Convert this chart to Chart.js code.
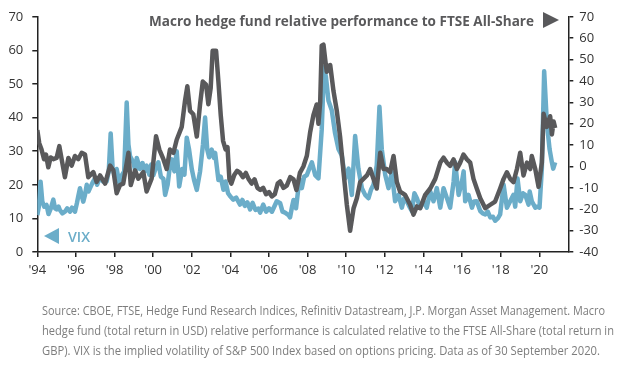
<!DOCTYPE html>
<html>
<head>
<meta charset="utf-8">
<script src="https://cdn.jsdelivr.net/npm/chart.js@4.4.1/dist/chart.umd.min.js"></script>
<style>
  body { margin: 0; background: #fff; }
  #wrap { position: relative; width: 622px; height: 372px; overflow: hidden; font-family: "Open Sans", sans-serif; }
  #chart { position: absolute; left: 0; top: 0; }
  .fit { position: absolute; white-space: nowrap; transform-origin: left center; }
  #title { left: 149px; top: 10px; font-size: 15px; font-weight: 700; color: #59595b; line-height: 20px; }
  #titleArrow { position: absolute; left: 543px; top: 12px; width: 0; height: 0;
    border-left: 16px solid #59595b; border-top: 8px solid transparent; border-bottom: 8px solid transparent; }
  #vixArrow { position: absolute; left: 44px; top: 228px; width: 0; height: 0;
    border-right: 15px solid #6badc9; border-top: 8px solid transparent; border-bottom: 8px solid transparent; }
  #vixLabel { left: 68px; top: 226px; font-size: 15px; font-weight: 600; color: #6badc9; line-height: 20px; }
  .note { left: 42px; font-size: 12px; color: #7d7d7d; line-height: 20px; }
</style>
</head>
<body>
<div id="wrap">
  <canvas id="chart" width="622" height="372"></canvas>
  <div id="title" class="fit" data-w="385">Macro hedge fund relative performance to FTSE All-Share</div>
  <div id="titleArrow"></div>
  <div id="vixArrow"></div>
  <div id="vixLabel" class="fit" data-w="22">VIX</div>
  <div class="fit note" style="top:301px" data-w="563">Source: CBOE, FTSE, Hedge Fund Research Indices, Refinitiv Datastream, J.P. Morgan Asset Management. Macro</div>
  <div class="fit note" style="top:321px" data-w="572">hedge fund (total return in USD) relative performance is calculated relative to the FTSE All-Share (total return in</div>
  <div class="fit note" style="top:341px" data-w="558">GBP). VIX is the implied volatility of S&amp;P 500 Index based on options pricing. Data as of 30 September 2020.</div>
</div>
<script>
// x positions are decimal years
const macroYears = [
  1994.00, 1994.10, 1994.22, 1994.35, 1994.45, 1994.57, 1994.69, 1994.83, 1995.00, 1995.14,
  1995.26, 1995.43, 1995.61, 1995.78, 1995.95, 1996.12, 1996.30, 1996.47, 1996.64, 1996.90,
  1997.07, 1997.25, 1997.51, 1997.77, 1997.94, 1998.11, 1998.28, 1998.45, 1998.72, 1998.84,
  1999.06, 1999.23, 1999.49, 1999.66, 1999.92, 2000.15, 2000.32, 2000.53, 2000.70, 2000.87,
  2001.05, 2001.22, 2001.48, 2001.65, 2001.77, 2001.91, 2002.08, 2002.26, 2002.43, 2002.57,
  2002.74, 2002.86, 2002.98, 2003.08, 2003.26, 2003.38, 2003.50, 2003.62, 2003.75, 2003.85,
  2003.95, 2004.05, 2004.20, 2004.35, 2004.50, 2004.65, 2004.80, 2004.95, 2005.10, 2005.25,
  2005.40, 2005.55, 2005.70, 2005.85, 2006.00, 2006.15, 2006.30, 2006.45, 2006.58, 2006.75,
  2006.92, 2007.10, 2007.27, 2007.42, 2007.60, 2007.78, 2007.96, 2008.13, 2008.30, 2008.47,
  2008.56, 2008.65, 2008.73, 2008.82, 2008.91, 2008.99, 2009.08, 2009.17, 2009.34, 2009.51,
  2009.68, 2009.86, 2010.03, 2010.20, 2010.38, 2010.55, 2010.72, 2010.89, 2011.07, 2011.24,
  2011.41, 2011.58, 2011.76, 2011.93, 2012.10, 2012.27, 2012.45, 2012.62, 2012.79, 2013.05,
  2013.31, 2013.48, 2013.66, 2013.83, 2014.09, 2014.35, 2014.61, 2014.87, 2015.04, 2015.21,
  2015.38, 2015.56, 2015.73, 2015.90, 2016.07, 2016.25, 2016.42, 2016.59, 2016.76, 2016.94,
  2017.20, 2017.46, 2017.71, 2017.97, 2018.15, 2018.32, 2018.49, 2018.66, 2018.84, 2019.01,
  2019.18, 2019.36, 2019.53, 2019.61, 2019.79, 2019.96, 2020.13, 2020.22, 2020.39, 2020.56,
  2020.65, 2020.74, 2020.82
];
const macroValues = [
  17.0, 10.9, 7.9, 3.4, 5.6, -0.4, 4.2, 3.4, 4.0, 9.5,
  3.4, -5.0, 4.0, 0.4, 4.9, 3.4, 6.4, 5.6, -5.0, -2.6,
  -7.2, -4.2, -8.0, 0.4, -1.8, -12.5, -8.7, -8.0, 6.4, -8.7,
  -1.8, -5.7, -2.6, -11.7, -5.7, 14.1, 7.9, 3.4, -1.2, 7.9,
  6.4, 12.5, 18.5, 30.7, 37.5, 26.0, 24.4, 14.0, 29.1, 39.7,
  38.3, 29.1, 36.7, 54.1, 54.1, 39.7, 24.0, 12.0, 8.0, 9.0,
  -6.0, -8.0, -4.0, -2.0, -3.0, -5.0, -3.0, -6.0, -8.0, -6.0,
  -10.0, -11.0, -10.0, -13.0, -12.0, -14.0, -13.0, -8.0, -7.0, -10.0,
  -9.0, -5.0, -6.0, -11.0, -3.0, 0.0, 5.0, 16.0, 24.0, 29.0,
  20.0, 30.0, 56.5, 57.0, 50.0, 44.3, 47.0, 47.4, 35.2, 26.1,
  14.0, -2.7, -17.9, -30.1, -19.5, -14.9, -7.3, -5.8, -4.2, -1.2,
  -5.8, -10.3, 6.4, -1.2, -1.2, -2.7, 4.9, -7.3, -11.8, -13.3,
  -17.9, -22.5, -18.7, -19.5, -13.3, -10.3, -5.8, 1.8, 4.1, 1.8,
  0.3, 3.3, -1.2, 1.8, 5.6, 3.3, 1.8, -5.8, -10.3, -14.9,
  -19.5, -17.9, -16.4, -10.3, -5.8, -2.7, -5.8, -7.3, -1.2, 6.4,
  -4.2, 1.8, -1.2, 4.9, -1.2, -9.5, 1.8, 24.6, 18.5, 23.5,
  15.0, 21.0, 18.0
];
const vixYears = [
  1994.00, 1994.08, 1994.17, 1994.26, 1994.36, 1994.48, 1994.58, 1994.70, 1994.83, 1994.92,
  1995.00, 1995.10, 1995.17, 1995.30, 1995.43, 1995.55, 1995.69, 1995.80, 1995.95, 1996.05,
  1996.12, 1996.21, 1996.38, 1996.47, 1996.56, 1996.65, 1996.73, 1996.85, 1996.99, 1997.10,
  1997.25, 1997.40, 1997.59, 1997.70, 1997.80, 1997.90, 1998.00, 1998.11, 1998.25, 1998.37,
  1998.50, 1998.63, 1998.72, 1998.80, 1998.97, 1999.08, 1999.15, 1999.32, 1999.45, 1999.55,
  1999.66, 1999.80, 1999.90, 2000.01, 2000.15, 2000.27, 2000.40, 2000.53, 2000.62, 2000.75,
  2000.88, 2000.96, 2001.10, 2001.22, 2001.35, 2001.50, 2001.62, 2001.74, 2001.86, 2002.00,
  2002.12, 2002.26, 2002.43, 2002.58, 2002.69, 2002.80, 2002.90, 2003.03, 2003.15, 2003.21,
  2003.38, 2003.50, 2003.64, 2003.75, 2003.88, 2004.00, 2004.15, 2004.30, 2004.50, 2004.62,
  2004.75, 2004.88, 2005.02, 2005.15, 2005.30, 2005.45, 2005.54, 2005.70, 2005.85, 2006.00,
  2006.15, 2006.40, 2006.58, 2006.70, 2006.83, 2007.01, 2007.09, 2007.20, 2007.27, 2007.40,
  2007.52, 2007.62, 2007.70, 2007.82, 2007.96, 2008.10, 2008.22, 2008.39, 2008.56, 2008.73,
  2008.85, 2008.95, 2009.08, 2009.25, 2009.42, 2009.60, 2009.77, 2009.94, 2010.12, 2010.29,
  2010.46, 2010.63, 2010.81, 2010.98, 2011.15, 2011.28, 2011.41, 2011.58, 2011.72, 2011.84,
  2012.02, 2012.19, 2012.36, 2012.53, 2012.71, 2012.88, 2013.00, 2013.14, 2013.27, 2013.40,
  2013.53, 2013.66, 2013.83, 2014.00, 2014.17, 2014.35, 2014.52, 2014.69, 2014.87, 2015.04,
  2015.21, 2015.38, 2015.56, 2015.64, 2015.82, 2015.99, 2016.08, 2016.16, 2016.33, 2016.51,
  2016.62, 2016.76, 2016.94, 2017.07, 2017.20, 2017.33, 2017.46, 2017.60, 2017.71, 2017.85,
  2017.97, 2018.15, 2018.25, 2018.32, 2018.49, 2018.66, 2018.75, 2018.87, 2019.01, 2019.15,
  2019.27, 2019.44, 2019.50, 2019.61, 2019.79, 2019.90, 2020.01, 2020.13, 2020.25, 2020.39,
  2020.53, 2020.65, 2020.72, 2020.82
];
const vixValues = [
  11.0, 13.5, 20.9, 15.0, 13.5, 14.0, 11.3, 13.0, 15.6, 13.0,
  12.7, 13.5, 12.5, 11.5, 12.0, 13.0, 12.0, 13.2, 12.0, 14.5,
  16.5, 19.0, 15.0, 17.0, 20.0, 18.0, 19.0, 20.5, 22.0, 20.0,
  22.3, 21.0, 21.0, 24.0, 35.3, 25.0, 22.8, 24.7, 20.5, 22.8,
  24.0, 44.5, 32.0, 28.6, 26.7, 24.0, 28.0, 24.7, 26.5, 24.0,
  25.7, 23.0, 26.0, 22.8, 25.3, 26.7, 22.4, 21.8, 17.0, 20.0,
  26.2, 27.6, 24.0, 30.0, 19.5, 24.7, 23.0, 34.0, 30.5, 24.7,
  21.4, 18.5, 24.0, 32.0, 40.0, 30.5, 28.2, 30.5, 28.0, 29.5,
  21.4, 22.4, 18.5, 21.0, 17.5, 16.5, 15.6, 16.2, 14.1, 15.5,
  13.7, 14.8, 12.7, 14.6, 12.5, 12.9, 11.7, 14.1, 12.0, 13.0,
  12.0, 15.1, 14.5, 12.0, 11.7, 11.0, 10.3, 13.7, 15.5, 13.0,
  19.0, 21.4, 19.0, 22.4, 22.9, 25.0, 26.7, 22.9, 21.9, 36.4,
  55.0, 52.0, 45.0, 42.2, 35.4, 30.6, 28.7, 21.9, 24.8, 17.0,
  34.5, 24.8, 19.0, 17.0, 16.0, 18.5, 20.0, 25.8, 43.2, 30.6,
  22.9, 19.0, 23.8, 15.1, 17.0, 13.2, 16.0, 15.1, 13.5, 12.2,
  17.5, 16.0, 13.2, 15.1, 13.2, 18.0, 15.1, 19.0, 13.2, 19.0,
  16.1, 13.2, 20.9, 26.7, 17.0, 20.9, 24.0, 15.1, 17.0, 13.2,
  15.0, 15.1, 12.2, 11.5, 11.2, 12.0, 10.3, 10.5, 9.3, 10.0,
  11.2, 20.0, 16.0, 13.2, 15.1, 17.0, 13.5, 21.9, 15.1, 17.5,
  17.0, 14.1, 18.0, 15.1, 13.2, 13.5, 13.2, 24.8, 53.8, 38.3,
  30.6, 26.7, 24.8, 26.7
];
const xTickYears = [1994, 1996, 1998, 2000, 2002, 2004, 2006, 2008, 2010, 2012, 2014, 2016, 2018, 2020];
const xTickLabels = ["'94", "'96", "'98", "'00", "'02", "'04", "'06", "'08", "'10", "'12", "'14", "'16", "'18", "'20"];
const leftTicks = [0, 10, 20, 30, 40, 50, 60, 70];
const rightTicks = [-40, -30, -20, -10, 0, 10, 20, 30, 40, 50, 60, 70];

const GREY = "#59595b";
const BLUE = "#6badc9";
const AXIS = "#222";
const tickFont = { family: "Open Sans", size: 13 };

var ctx = document.getElementById("chart").getContext("2d");
var chart = new Chart(ctx, {
  type: "line",
  data: {
    datasets: [
      {
        label: "Macro hedge fund relative performance to FTSE All-Share",
        data: macroYears.map((x, i) => ({ x: x, y: macroValues[i] })),
        yAxisID: "yRight",
        borderColor: GREY,
        borderWidth: 4.5,
        pointRadius: 0,
        tension: 0,
        borderJoinStyle: "round",
        order: 0,
      },
      {
        label: "VIX",
        data: vixYears.map((x, i) => ({ x: x, y: vixValues[i] })),
        yAxisID: "yLeft",
        borderColor: BLUE,
        borderWidth: 4.5,
        pointRadius: 0,
        tension: 0,
        borderJoinStyle: "round",
        order: 1,
      },
    ],
  },
  options: {
    responsive: false,
    animation: false,
    devicePixelRatio: 1,
    layout: { padding: { top: 11, left: 0, right: 0, bottom: 0 } },
    plugins: { legend: { display: false }, tooltip: { enabled: false } },
    scales: {
      x: {
        type: "linear",
        min: 1994,
        max: 2021.5,
        afterBuildTicks: (scale) => { scale.ticks = xTickYears.map((v) => ({ value: v })); },
        afterFit: (scale) => { scale.height = 120; },
        ticks: {
          autoSkip: false,
          maxRotation: 0,
          padding: 5,
          color: "#333",
          font: tickFont,
          callback: (value, index) => xTickLabels[index],
        },
        grid: { drawOnChartArea: false, tickLength: 5, color: AXIS, lineWidth: 1.5 },
        border: { color: AXIS, width: 1.5 },
      },
      yLeft: {
        position: "left",
        min: 0,
        max: 70,
        afterBuildTicks: (scale) => { scale.ticks = leftTicks.map((v) => ({ value: v })); },
        afterFit: (scale) => { scale.width = 37.3; },
        ticks: { padding: 9, color: "#333", font: tickFont },
        grid: { drawOnChartArea: false, tickLength: 5, color: AXIS, lineWidth: 1.5 },
        border: { color: AXIS, width: 1.5 },
      },
      yRight: {
        position: "right",
        min: -40,
        max: 70,
        afterBuildTicks: (scale) => { scale.ticks = rightTicks.map((v) => ({ value: v })); },
        afterFit: (scale) => { scale.width = 53.7; },
        ticks: { padding: 6, color: "#333", font: tickFont },
        grid: { drawOnChartArea: false, tickLength: 5, color: AXIS, lineWidth: 1.5 },
        border: { color: AXIS, width: 1.5 },
      },
    },
  },
});

// squeeze the overlay texts to the widths they have in the original
document.querySelectorAll(".fit").forEach(function (el) {
  var w = el.getBoundingClientRect().width;
  el.style.transform = "scaleX(" + (parseFloat(el.dataset.w) / w) + ")";
});
</script>
</body>
</html>
